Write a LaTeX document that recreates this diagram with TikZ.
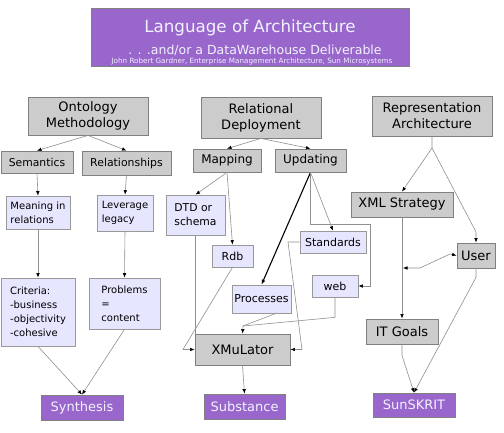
\documentclass[tikz,border=0pt]{standalone}
\usepackage{fontspec}
\setmainfont{DejaVu Sans}
\usetikzlibrary{arrows.meta,calc}
\newcommand{\fsz}[2]{\fontsize{#1}{#2}\selectfont}
\definecolor{pur}{HTML}{9966CC}
\definecolor{gfill}{HTML}{CCCCCC}
\definecolor{gline}{HTML}{808080}
\definecolor{lav}{HTML}{E6E6FF}
\definecolor{lavtext}{HTML}{F2F2FF}
\definecolor{conncol}{HTML}{909090}
\begin{document}
\begin{tikzpicture}[x=1pt,y=-1pt,
 gbox/.style={draw=gline, fill=gfill, line width=0.8pt, inner sep=0pt, align=center, text=black},
 lbox/.style={draw=gline!80, fill=lav, line width=0.7pt, inner sep=0pt, align=left, text=black},
 pbox/.style={draw=gline, fill=pur, line width=0.8pt, inner sep=0pt, align=center, text=lavtext},
 sz/.style args={#1/#2}{minimum width=#1pt, minimum height=#2pt},
 conn/.style={draw=conncol, line width=0.6pt},
 arr/.style={conn, -{Latex[length=4.5pt,width=3.6pt,color=black]}},
 dblarr/.style={conn, {Latex[length=4.5pt,width=3.6pt,color=black]}-{Latex[length=4.5pt,width=3.6pt,color=black]}}]
\fill[white] (0,0) rectangle (504,432);
\useasboundingbox (0,0) rectangle (504,432);
% title
\node[pbox, sz=318/58] (title) at (250,37) {};
\node[text=lavtext, anchor=base, font={\fsz{16.7}{18}}] (t1) at (250,32) {Language of Architecture};
\node[text=lavtext, anchor=base, font={\fsz{12.5}{14}}] (t2) at (255,54) {. . .and/or a DataWarehouse Deliverable};
\node[text=lavtext, anchor=base, font={\fsz{7.2}{8}}] (t3) at (252,63) {John Robert Gardner, Enterprise Management Architecture, Sun Microsystems};
% left column
\node[gbox, sz=120/38, font={\fsz{13}{16}}] (onto) at (88,116) {Ontology\\Methodology};
\node[gbox, sz=72/22, font={\fsz{10.8}{12}}] (sem) at (37,162) {Semantics};
\node[gbox, sz=89/24, font={\fsz{10.9}{12}}] (rel) at (126.5,163) {Relationships};
\node[lbox, sz=64/33, font={\fsz{10}{14}}] (mean) at (38,212.5) {Meaning in\\relations};
\node[lbox, sz=56/36, font={\fsz{10}{14}}] (lev) at (125,213) {Leverage\\legacy};
\node[lbox, sz=74/68, font={\fsz{10}{14}}] (crit) at (38,312) {Criteria:\\-business\\-objectivity\\-cohesive};
\node[lbox, sz=71/51, font={\fsz{10}{14}}] (prob) at (124.5,303.5) {Problems\\=\\content};
\node[pbox, sz=82/25, font={\fsz{13}{15}}] (syn) at (82,407.5) {Synthesis};
% middle column
\node[gbox, sz=120/41, font={\fsz{13}{16}}] (rd) at (261,117.5) {Relational\\Deployment};
\node[gbox, sz=68/23, font={\fsz{12}{14}}] (map) at (227,160.5) {Mapping};
\node[gbox, sz=71/23, font={\fsz{12}{14}}] (upd) at (310.5,160.5) {Updating};
\node[lbox, sz=59/40, font={\fsz{10.8}{14}}] (dtd) at (195.5,215) {DTD or\\schema};
\node[lbox, sz=41/22, font={\fsz{11}{13}}] (rdb) at (232.5,256) {Rdb};
\node[lbox, sz=66/22, font={\fsz{11}{13}}] (std) at (333,242) {Standards};
\node[lbox, sz=46/22, font={\fsz{11}{13}}] (web) at (335,286) {web};
\node[lbox, sz=59/28, font={\fsz{11}{13}}] (proc) at (261.5,299) {Processes};
\node[gbox, sz=95/31, font={\fsz{13}{15}}] (xmu) at (242.5,349.5) {XMuLator};
\node[pbox, sz=81/25, font={\fsz{13}{15}}] (sub) at (244.5,406.5) {Substance};
% right column
\node[gbox, sz=120/40, font={\fsz{13}{16}}] (ra) at (432,116) {Representation\\Architecture};
\node[gbox, sz=102/25, font={\fsz{13}{15}}] (xml) at (402,204.5) {XML Strategy};
\node[gbox, sz=38/25, font={\fsz{13}{15}}] (user) at (476,255.5) {User};
\node[gbox, sz=72/25, font={\fsz{13}{15}}] (itg) at (402,331.5) {IT Goals};
\node[pbox, sz=82/24, font={\fsz{13}{15}}] (sun) at (414,405) {SunSKRIT};
% coordinates
\coordinate (cw1) at (370,224);
\coordinate (cs1) at (288,242);
\coordinate (cs2) at (302,349.5);
\coordinate (cp1) at (277,313);
\coordinate (cx1) at (243,326);
\coordinate (cr1) at (183,349.5);
\coordinate (ra1) at (432,148);
\coordinate (ru1) at (476,232);
\coordinate (cu0) at (403,268);
\coordinate (cu1) at (420,268);
\coordinate (cu2) at (450,254);
% left connectors
\draw[arr] (onto.south) -- (sem.north);
\draw[arr] (onto.south) -- (rel.north);
\draw[arr] (sem.south) -- (mean.north);
\draw[arr] (rel.south) -- (lev.north);
\draw[arr] (mean.south) -- (crit.north);
\draw[arr] (lev.south) -- (prob.north);
\draw[arr] (crit.south) -- (syn.north);
\draw[arr] (prob.south) -- (syn.north);
% middle connectors
\draw[arr] (rd.south) -- (map.north);
\draw[arr] (rd.south) -- (upd.north);
\draw[arr] (map.south) -- (dtd.north);
\draw[arr] (map.south) -- (rdb.north);
\draw[line width=1.1pt, -{Latex[length=5pt,width=4pt]}] (upd.south) -- (proc.north);
\draw[arr] (upd.south) -- (std.north);
\draw[arr] (upd.south) |- (cw1) -- (cw1 |- web.east) -- (web.east);
\draw[arr] (std.west) -- (cs1) -- (cs2) -- (xmu.east);
\draw[arr] (cp1) -- (cx1) -- (xmu.north);
\draw[conn] (web.south) -- ++(0,20) -- (cx1);
\draw[conn] (dtd.south) -- (dtd.south |- xmu.north);
\draw[arr] (rdb.south) -- (cr1) -- (xmu.west);
\draw[arr] (xmu.south) -- (sub.north);
% right connectors
\draw[arr] (ra.south) -- (ra1) -- (xml.north);
\draw[arr] (ra1) -- (ru1) -- (user.north);
\draw[arr] (xml.south) -- (itg.north);
\draw[dblarr] (cu0) -- (cu1) -- (cu2) -- (user.west);
\draw[arr] (user.south) -- ++(0,9) -- (sun.north);
\draw[arr] (itg.south) -- ++(0,11) -- (sun.north);
\end{tikzpicture}
\end{document}
